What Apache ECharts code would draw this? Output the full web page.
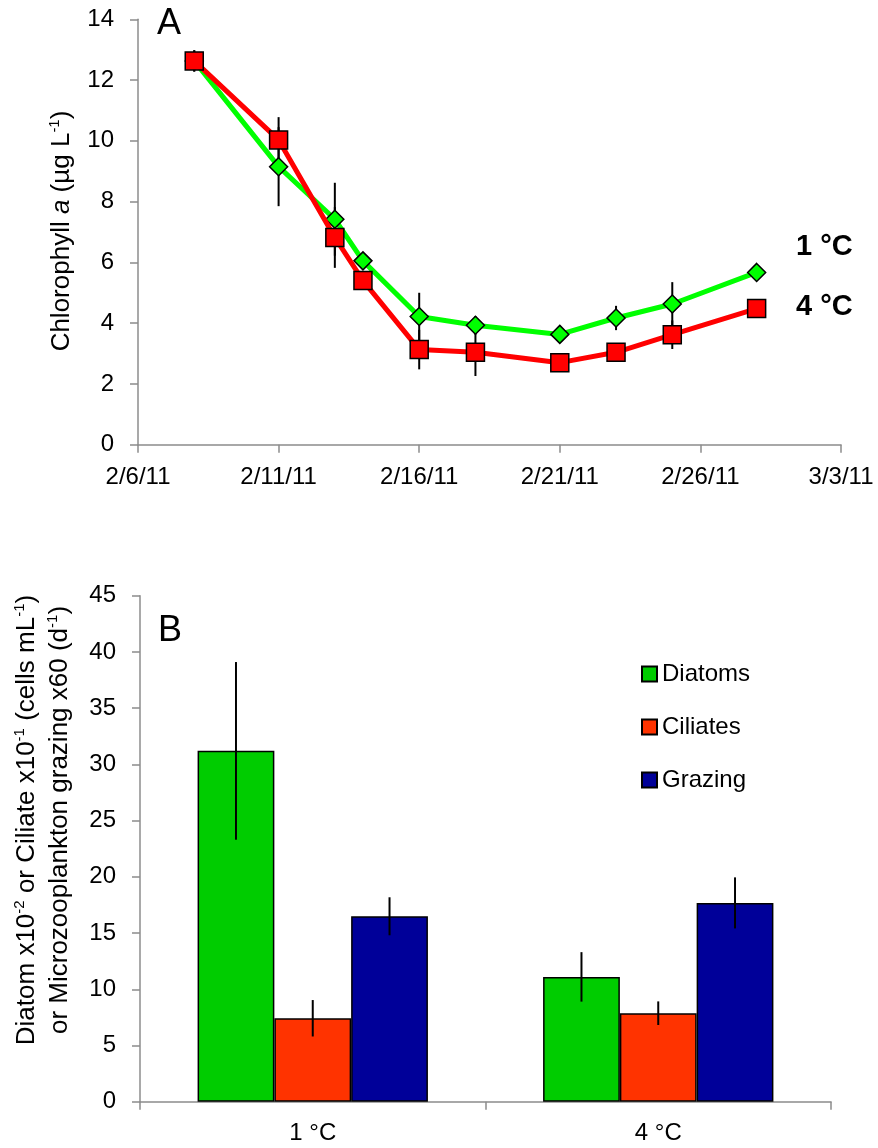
<!DOCTYPE html>
<html><head><meta charset="utf-8">
<script src="https://cdn.jsdelivr.net/npm/echarts@6/dist/echarts.min.js"></script>
<style>html,body{margin:0;padding:0;background:#fff}#c{width:878px;height:1148px}</style>
</head><body><div id="c"></div>
<script>
// ---- Panel A data ----
const startDate = '2011-02-06';
const dates = ['2011-02-08','2011-02-11','2011-02-13','2011-02-14','2011-02-16','2011-02-18','2011-02-21','2011-02-23','2011-02-25','2011-02-28'];
const chl1C    = [12.63, 9.15, 7.42, 6.05, 4.22, 3.93, 3.63, 4.17, 4.63, 5.67];
const chl1CErr = [0.35, 1.3, 1.2, 0.2, 0.78, 0.3, 0.15, 0.4, 0.72, 0.15];
const chl4C    = [12.63, 10.03, 6.82, 5.4, 3.13, 3.04, 2.7, 3.04, 3.62, 4.48];
const chl4CErr = [0.35, 0.75, 1.0, 0.2, 0.65, 0.78, 0.15, 0.15, 0.47, 0.15];
const dateTickLabels = ['2/6/11','2/11/11','2/16/11','2/21/11','2/26/11','3/3/11'];

// ---- Panel B data ----
const groups = ['1 °C', '4 °C'];
const diatoms    = [31.2, 11.1];
const diatomsErr = [7.9, 2.2];
const ciliates    = [7.42, 7.87];
const ciliatesErr = [1.62, 1.05];
const grazing    = [16.49, 17.68];
const grazingErr = [1.69, 2.27];

const FONT = 'Liberation Sans, Arial, sans-serif';
const AXIS_COLOR = '#8c8c8c';
const DAY = 86400000;
const t0 = Date.parse(startDate);
const dayOf = d => Math.round((Date.parse(d) - t0) / DAY);

const line1 = dates.map((d, i) => [dayOf(d), chl1C[i]]);
const line4 = dates.map((d, i) => [dayOf(d), chl4C[i]]);
const err1 = dates.map((d, i) => [dayOf(d), chl1C[i], chl1CErr[i]]);
const err4 = dates.map((d, i) => [dayOf(d), chl4C[i], chl4CErr[i]]);

const CAT_GAP = 1 / 3;
const barErrData = [];
[[diatoms, diatomsErr], [ciliates, ciliatesErr], [grazing, grazingErr]].forEach((p, s) => {
  p[0].forEach((v, i) => barErrData.push([i, v, p[1][i], s]));
});

function lineErr(params, api) {
  const x = api.value(0), y = api.value(1), e = api.value(2);
  const a = api.coord([x, y + e]), b = api.coord([x, y - e]);
  return { type: 'line', shape: { x1: a[0], y1: a[1], x2: b[0], y2: b[1] },
    style: { stroke: '#000', lineWidth: 2 } };
}
function barErr(params, api) {
  const c = api.value(0), y = api.value(1), e = api.value(2), s = api.value(3);
  const band = api.size([1, 0])[0];
  const bw = band * (1 - CAT_GAP) / 3;
  const center = api.coord([c, y]);
  const x = center[0] + (s - 1) * bw;
  const top = api.coord([c, y + e])[1], bot = api.coord([c, y - e])[1];
  return { type: 'line', shape: { x1: x, y1: top, x2: x, y2: bot },
    style: { stroke: '#000', lineWidth: 2 } };
}

const axisCommon = {
  axisLine: { show: true, lineStyle: { color: AXIS_COLOR, width: 1.5 } },
  axisTick: { show: true, length: 8, lineStyle: { color: AXIS_COLOR, width: 1.5 } },
  splitLine: { show: false },
};
const labelStyle = { color: '#000', fontSize: 24, fontFamily: FONT };
const richTitle = {
  n: { fontSize: 26, fontFamily: FONT, fill: '#000', lineHeight: 30 },
  i: { fontSize: 26, fontFamily: FONT, fontStyle: 'italic', fill: '#000', lineHeight: 30 },
  s: { fontSize: 15, fontFamily: FONT, fill: '#000', verticalAlign: 'top', lineHeight: 30 }
};

const chart = echarts.init(document.getElementById('c'));
chart.setOption({
  backgroundColor: '#fff',
  animation: false,
  grid: [
    { left: 138, top: 19.3, width: 703, height: 425.4 },
    { left: 140, top: 595.7, width: 691, height: 506 }
  ],
  xAxis: [
    Object.assign({}, axisCommon, {
      gridIndex: 0, type: 'value', min: 0, max: 25, interval: 5,
      axisLabel: Object.assign({}, labelStyle, { margin: 21,
        formatter: v => dateTickLabels[Math.round(v / 5)] })
    }),
    Object.assign({}, axisCommon, {
      gridIndex: 1, type: 'category', data: groups,
      axisTick: { show: true, length: 8, alignWithLabel: false, lineStyle: { color: AXIS_COLOR, width: 1.5 } },
      axisLabel: Object.assign({}, labelStyle, { margin: 20 })
    })
  ],
  yAxis: [
    Object.assign({}, axisCommon, {
      gridIndex: 0, type: 'value', min: 0, max: 14, interval: 2,
      axisLabel: Object.assign({}, labelStyle, { margin: 24 })
    }),
    Object.assign({}, axisCommon, {
      gridIndex: 1, type: 'value', min: 0, max: 45, interval: 5,
      axisLabel: Object.assign({}, labelStyle, { margin: 24 })
    })
  ],
  legend: {
    data: ['Diatoms', 'Ciliates', 'Grazing'],
    orient: 'vertical', left: 636, top: 657,
    itemWidth: 15, itemHeight: 15, itemGap: 29, icon: 'rect',
    textStyle: { color: '#000', fontSize: 24, fontFamily: FONT, lineHeight: 24, padding: [0, 0, 0, 0] }
  },
  series: [
    { type: 'custom', name: 'err1', xAxisIndex: 0, yAxisIndex: 0, renderItem: lineErr, data: err1, z: 1, silent: true },
    { type: 'custom', name: 'err4', xAxisIndex: 0, yAxisIndex: 0, renderItem: lineErr, data: err4, z: 1, silent: true },
    { type: 'line', name: '1 °C', xAxisIndex: 0, yAxisIndex: 0, data: line1, z: 2,
      lineStyle: { color: '#00ff00', width: 5 },
      symbol: 'diamond', symbolSize: 18,
      itemStyle: { color: '#00ff00', borderColor: '#000', borderWidth: 1.5 } },
    { type: 'line', name: '4 °C', xAxisIndex: 0, yAxisIndex: 0, data: line4, z: 3,
      lineStyle: { color: '#ff0000', width: 5 },
      symbol: 'rect', symbolSize: 18,
      itemStyle: { color: '#ff0000', borderColor: '#000', borderWidth: 1.5 } },
    { type: 'bar', name: 'Diatoms', xAxisIndex: 1, yAxisIndex: 1, data: diatoms,
      barGap: '0%', barCategoryGap: (CAT_GAP * 100) + '%', z: 2,
      itemStyle: { color: '#00cc00', borderColor: '#000', borderWidth: 1.5 } },
    { type: 'bar', name: 'Ciliates', xAxisIndex: 1, yAxisIndex: 1, data: ciliates,
      barGap: '0%', barCategoryGap: (CAT_GAP * 100) + '%', z: 2,
      itemStyle: { color: '#ff3300', borderColor: '#000', borderWidth: 1.5 } },
    { type: 'bar', name: 'Grazing', xAxisIndex: 1, yAxisIndex: 1, data: grazing,
      barGap: '0%', barCategoryGap: (CAT_GAP * 100) + '%', z: 2,
      itemStyle: { color: '#000099', borderColor: '#000', borderWidth: 1.5 } },
    { type: 'custom', name: 'barErr', xAxisIndex: 1, yAxisIndex: 1, renderItem: barErr, data: barErrData, z: 5, silent: true }
  ],
  graphic: [
    { type: 'text', x: 157, y: 24, style: { text: 'A', fontSize: 36, fontFamily: FONT, fill: '#000', verticalAlign: 'middle' } },
    { type: 'text', x: 158, y: 631, style: { text: 'B', fontSize: 36, fontFamily: FONT, fill: '#000', verticalAlign: 'middle' } },
    { type: 'text', x: 796, y: 247, style: { text: '1 °C', fontSize: 29, fontWeight: 'bold', fontFamily: FONT, fill: '#000', verticalAlign: 'middle' } },
    { type: 'text', x: 796, y: 307, style: { text: '4 °C', fontSize: 29, fontWeight: 'bold', fontFamily: FONT, fill: '#000', verticalAlign: 'middle' } },
    { type: 'text', x: 62, y: 231, rotation: Math.PI / 2,
      style: { text: '{n|Chlorophyll }{i|a}{n| (µg L}{s|-1}{n|)}', align: 'center', verticalAlign: 'middle', rich: richTitle } },
    { type: 'text', x: 27, y: 820, rotation: Math.PI / 2,
      style: { text: '{n|Diatom x10}{s|-2}{n| or Ciliate x10}{s|-1}{n| (cells mL}{s|-1}{n|)}', align: 'center', verticalAlign: 'middle', rich: richTitle } },
    { type: 'text', x: 60, y: 820, rotation: Math.PI / 2,
      style: { text: '{n|or Microzooplankton grazing x60 (d}{s|-1}{n|)}', align: 'center', verticalAlign: 'middle', rich: richTitle } }
  ]
});
</script></body></html>
